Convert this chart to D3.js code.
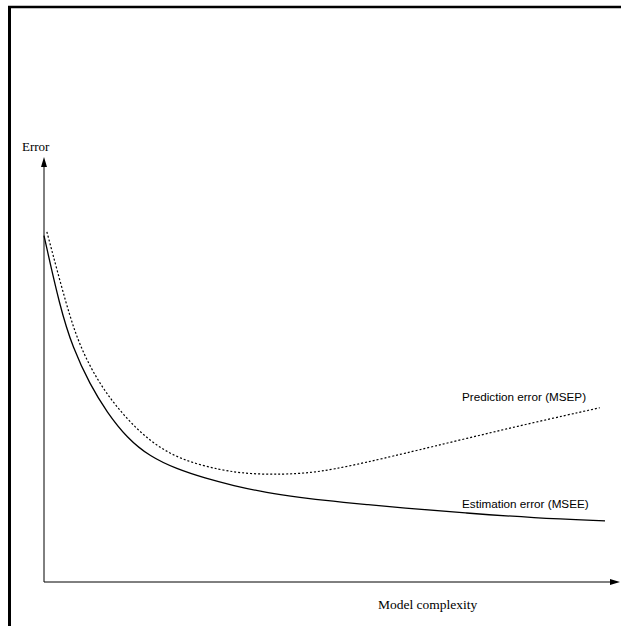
<!DOCTYPE html>
<html>
<head>
<meta charset="utf-8">
<script src="https://cdn.jsdelivr.net/npm/d3@7"></script>
<style>
  html, body { margin: 0; padding: 0; background: #fff; }
  svg { display: block; }
</style>
</head>
<body>
<script>
// Estimation error (MSEE) against model complexity
const mseeComplexity = [0, 0.28, 0.5, 0.8, 1.09, 1.44, 1.84, 2.3, 2.8, 3.28, 3.87, 4.44, 5.02, 5.61, 6.18, 7.34, 8.49, 9.74];
const mseeError      = [8.15, 6.45, 5.51, 4.64, 4.0, 3.39, 2.95, 2.66, 2.44, 2.27, 2.1, 1.99, 1.9, 1.82, 1.75, 1.62, 1.51, 1.44];

// Prediction error (MSEP) against model complexity
const msepComplexity = [0.05, 0.4, 0.63, 0.97, 1.37, 1.84, 2.36, 3.06, 3.58, 4.15, 4.62, 5.02, 5.61, 6.18, 7.34, 8.49, 9.65];
const msepError      = [8.24, 6.45, 5.51, 4.64, 3.93, 3.3, 2.88, 2.63, 2.54, 2.53, 2.57, 2.65, 2.82, 3.0, 3.38, 3.75, 4.1];

const seriesLabels = ["Prediction error (MSEP)", "Estimation error (MSEE)"];
const axisLabels = { x: "Model complexity", y: "Error" };

const W = 621, H = 626;
const svg = d3.select("body").append("svg").attr("width", W).attr("height", H);

// frame edges
svg.append("line").attr("x1", 8).attr("x2", W).attr("y1", 7).attr("y2", 7)
  .attr("stroke", "#000").attr("stroke-width", 2.5);
svg.append("line").attr("x1", 9.5).attr("x2", 9.5).attr("y1", 6).attr("y2", H)
  .attr("stroke", "#000").attr("stroke-width", 3);

const x = d3.scaleLinear().domain([0, 10]).range([44, 620]);
const y = d3.scaleLinear().domain([0, 10]).range([582, 157]);

// axes with arrowheads
const ax = svg.append("g").attr("stroke", "#000").attr("stroke-width", 1).attr("fill", "none");
ax.append("line").attr("x1", x(0)).attr("x2", x(10) - 6).attr("y1", y(0)).attr("y2", y(0));
ax.append("line").attr("x1", x(0)).attr("x2", x(0)).attr("y1", y(0)).attr("y2", y(10) + 6);
svg.append("path")
  .attr("d", `M${x(10)},${y(0)} L${x(10) - 10},${y(0) - 3} L${x(10) - 10},${y(0) + 3} Z`)
  .attr("fill", "#000");
svg.append("path")
  .attr("d", `M${x(0)},${y(10)} L${x(0) - 3},${y(10) + 10} L${x(0) + 3},${y(10) + 10} Z`)
  .attr("fill", "#000");

// smooth curves through the sampled values
const line = d3.line()
  .x(d => x(d[0])).y(d => y(d[1]))
  .curve(d3.curveBasis);

const msee = d3.zip(mseeComplexity, mseeError);
const msep = d3.zip(msepComplexity, msepError);

svg.append("path").datum(msep).attr("d", line)
  .attr("fill", "none").attr("stroke", "#000").attr("stroke-width", 1.2)
  .attr("stroke-dasharray", "2,2");
svg.append("path").datum(msee).attr("d", line)
  .attr("fill", "none").attr("stroke", "#000").attr("stroke-width", 1.3);

// series labels
const sans = "'Liberation Sans', Arial, Helvetica, sans-serif";
svg.append("text").attr("x", 462).attr("y", 401).text(seriesLabels[0])
  .attr("font-family", sans).attr("font-size", 11.7).attr("fill", "#000");
svg.append("text").attr("x", 462).attr("y", 508).text(seriesLabels[1])
  .attr("font-family", sans).attr("font-size", 11.7).attr("fill", "#000");

// axis titles
const serif = "'Liberation Serif', 'Times New Roman', Times, serif";
svg.append("text").attr("x", 22).attr("y", 151).text(axisLabels.y)
  .attr("font-family", serif).attr("font-size", 13).attr("fill", "#000");
svg.append("text").attr("x", 378).attr("y", 609).text(axisLabels.x)
  .attr("font-family", serif).attr("font-size", 13.5).attr("fill", "#000");
</script>
</body>
</html>
